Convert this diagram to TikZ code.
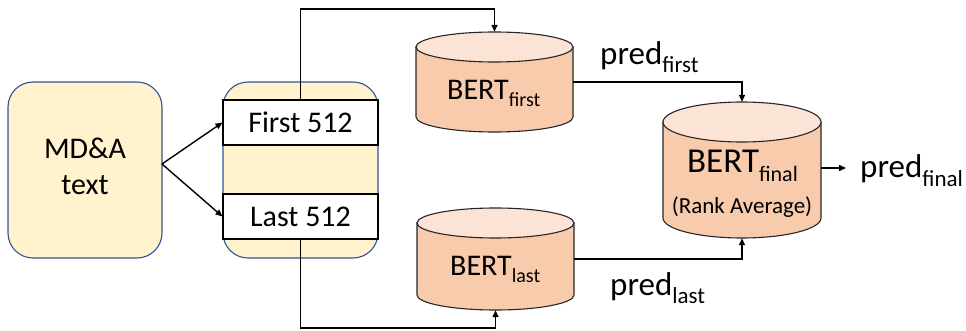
\documentclass[tikz,border=0pt]{standalone}
\usepackage{fontspec}
\setmainfont{Carlito}
\usetikzlibrary{arrows.meta}

\definecolor{boxfill}{HTML}{FFF2CC}
\definecolor{boxline}{HTML}{2F5597}
\definecolor{cylbody}{HTML}{F8CBAD}
\definecolor{cyltop}{HTML}{FBE3D6}

% text at a given size, and a lowered smaller subscript
\newcommand\txt[2]{{\fontsize{#1}{#1}\selectfont #2}}
\newcommand\lowsub[3]{\raisebox{-#1pt}{\fontsize{#2}{#2}\selectfont #3}}

\tikzset{
  roundbox/.style={draw=boxline, fill=boxfill, line width=1.1pt, rounded corners=25pt, inner sep=0pt},
  segbox/.style={draw=black, fill=white, line width=1.1pt, inner sep=0pt, minimum width=155pt, minimum height=45pt},
  cylside/.style={fill=cylbody, draw=black!85, line width=1.1pt},
  cylcap/.style={fill=cyltop, draw=black!85, line width=1.1pt},
  conn/.style={draw=black, line width=1.4pt, -{Triangle[length=7pt,width=6pt]}},
  label/.style={inner sep=0pt, anchor=base west},
}

% cylinder: name, left x, right x, top y, bottom y, cap radius
\newcommand\drawcyl[6]{%
  \pgfmathsetmacro\cylcx{(#2+#3)/2}%
  \pgfmathsetmacro\cylrx{(#3-#2)/2}%
  \pgfmathsetmacro\cylya{#4+#6}%
  \pgfmathsetmacro\cylyb{#5-#6}%
  \pgfmathsetmacro\cylcy{(#4+#5)/2}%
  \pgfmathsetmacro\cylw{#3-#2}%
  \pgfmathsetmacro\cylh{#5-#4}%
  \path[cylside] (#2,\cylya) -- (#2,\cylyb)
     arc[start angle=180, end angle=0, x radius=\cylrx, y radius=#6]
     -- (#3,\cylya) -- cycle;
  \path[cylcap] (\cylcx,\cylya) ellipse[x radius=\cylrx, y radius=#6];
  \node[inner sep=0pt, minimum width=\cylw pt, minimum height=\cylh pt] (#1) at (\cylcx,\cylcy) {};
}

\begin{document}
\begin{tikzpicture}[x=1pt, y=-1pt]
\useasboundingbox (0,0) rectangle (966,331);

% input text
\node[roundbox, minimum width=154pt, minimum height=176pt] (mda) at (85,170) {};
\node[inner sep=0pt, align=center, font=\fontsize{30}{36}\selectfont] (mdatext) at (85,166) {MD\&A\\text};

% chunked document
\node[roundbox, minimum width=155pt, minimum height=176pt] (chunks) at (300.5,170) {};
\node[segbox] (first) at (300.5,122.5) {\txt{30}{First 512}};
\node[segbox] (last) at (300.5,216.5) {\txt{30}{Last 512}};

% models
\drawcyl{bfirst}{416}{573}{32}{132}{15}
\drawcyl{blast}{417}{574}{208}{310}{15}
\drawcyl{bfinal}{663}{821}{102}{238}{20}

\node[label] (tfirst) at (447,100) {\txt{30}{BERT}\lowsub{7}{20}{first}};
\node[label] (tlast) at (450,275) {\txt{30}{BERT}\lowsub{7}{20}{last}};
\node[label] (tfinal) at (687,173) {\txt{35}{BERT}\lowsub{9}{22}{final}};
\node[inner sep=0pt, anchor=base] (trank) at (742,214) {\txt{23}{(Rank Average)}};

% fork from input to chunks
\coordinate (fork) at (162,164);
\draw[conn] (fork) -- (first.west);
\draw[conn] (fork) -- (last.west);

% chunks to models
\draw[conn] (first.north) -- (300.5,9) -| (bfirst.north);
\draw[conn] (last.south) -- (300.5,328) -| (blast.south);

% predictions to final model
\draw[conn] (bfirst.east) -| (bfinal.north);
\draw[conn] (blast.east) -| (bfinal.south);
\coordinate (outtip) at (846,168);
\draw[conn] (bfinal.east |- outtip) -- (outtip);

\node[label] (pfirst) at (600,65) {\txt{33}{pred}\lowsub{8}{23}{first}};
\node[label] (plast) at (610,295) {\txt{33}{pred}\lowsub{8}{23}{last}};
\node[label] (pfinal) at (860,178) {\txt{33}{pred}\lowsub{9}{23}{final}};
\end{tikzpicture}
\end{document}
